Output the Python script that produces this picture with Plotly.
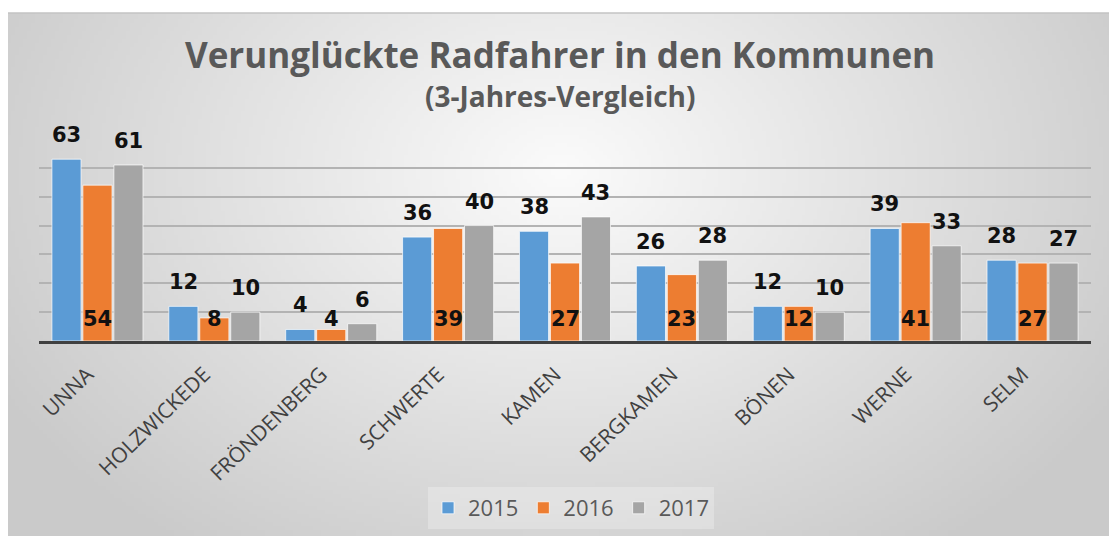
import base64, struct, zlib
import numpy as np
import plotly.graph_objects as go

# ---------------- data ----------------
categories = ["UNNA", "HOLZWICKEDE", "FRÖNDENBERG", "SCHWERTE", "KAMEN",
              "BERGKAMEN", "BÖNEN", "WERNE", "SELM"]
years = ["2015", "2016", "2017"]
v2015 = [63, 12, 4, 36, 38, 26, 12, 39, 28]
v2016 = [54, 8, 4, 39, 27, 23, 12, 41, 27]
v2017 = [61, 10, 6, 40, 43, 28, 10, 33, 27]
y_ticks = [0, 10, 20, 30, 40, 50, 60, 70]

title_text = "Verunglückte Radfahrer in den Kommunen"
subtitle_text = "(3-Jahres-Vergleich)"

# ---------------- style ----------------
OFF = 8                      # page body margin of the html page
W, H = 1117 - OFF, 536 - OFF  # figure size so that it ends at the window edge
ML, MR, MT, MB = 39 - OFF, 26, 139 - OFF, 195
colors = ["#5B9BD5", "#ED7D31", "#A5A5A5"]
BARGAP, GROUPGAP = 0.205, 0.06
LABEL_FONT = "DejaVu Sans"
TEXT_FONT = "Open Sans"

# background gradient image (generated locally as PNG data URI)
gw, gh = 280, 131
xs = np.linspace(0, 1, gw)[None, :]
ys = np.linspace(0, 1, gh)[:, None]
d = np.sqrt(((xs - 0.5) / 0.55) ** 2 + ((ys - 0.3) / 0.85) ** 2)
g = 251 - 46 * np.clip(d, 0, 1.05)
g = np.clip(g, 0, 255).astype(np.uint8)


def png_gray(arr):
    h, w = arr.shape
    raw = b"".join(b"\x00" + arr[r].tobytes() for r in range(h))

    def chunk(t, data):
        c = struct.pack(">I", len(data)) + t + data
        return c + struct.pack(">I", zlib.crc32(t + data) & 0xffffffff)

    ihdr = struct.pack(">IIBBBBB", w, h, 8, 0, 0, 0, 0)
    return (b"\x89PNG\r\n\x1a\n" + chunk(b"IHDR", ihdr) +
            chunk(b"IDAT", zlib.compress(raw, 9)) + chunk(b"IEND", b""))


bg_uri = "data:image/png;base64," + base64.b64encode(png_gray(g)).decode()

pw = W - ML - MR
ph = H - MT - MB


def px_x(px):  # screen pixel -> paper
    return (px - OFF - ML) / pw


def px_y(py):
    return (H - MB - (py - OFF)) / ph


series = [v2015, v2016, v2017]
fig = go.Figure()
for k, (yr, vals) in enumerate(zip(years, series)):
    fig.add_trace(go.Bar(
        name=yr, x=categories, y=vals,
        marker=dict(color=colors[k], line=dict(color="rgba(255,255,255,0.7)", width=1)),
        hoverinfo="x+y+name",
    ))

# data labels
slot = (1 - BARGAP) / 3
annotations = []
for k, vals in enumerate(series):
    off = -(1 - BARGAP) / 2 + slot * (k + 0.5)
    for i, v in enumerate(vals):
        if k == 1:
            yy, ys_ = 0, 22
        else:
            yy, ys_ = v, 24
        annotations.append(dict(
            x=i + off, y=yy, xref="x", yref="y", text=str(v), showarrow=False,
            yshift=ys_, yanchor="middle", xanchor="center",
            font=dict(family=LABEL_FONT, size=21, color="#111111", weight="bold"),
        ))

annotations.append(dict(
    x=px_x(560), y=px_y(96), xref="paper", yref="paper", text="<b>" + subtitle_text + "</b>",
    showarrow=False, xanchor="center", yanchor="middle",
    font=dict(family=TEXT_FONT, size=28, color="#595959"),
))

fig.update_layout(
    template="none",
    width=W, height=H,
    margin=dict(l=ML, r=MR, t=MT, b=MB, pad=0, autoexpand=False),
    paper_bgcolor="white",
    plot_bgcolor="rgba(0,0,0,0)",
    barmode="group", bargap=BARGAP, bargroupgap=GROUPGAP,
    title=dict(text="<b>" + title_text + "</b>", x=(560 - OFF) / W, xanchor="center",
               y=1 - (56 - OFF) / H, yanchor="middle", yref="container", automargin=False,
               font=dict(family=TEXT_FONT, size=35, color="#595959")),
    xaxis=dict(showline=True, linecolor="#404040", linewidth=3, ticks="",
               tickangle=-44, tickfont=dict(family=TEXT_FONT, size=21, color="#404040"),
               showgrid=False, ticklabelstandoff=10, ticklabelshift=-10, automargin=False),
    yaxis=dict(range=[0, 70], tickvals=y_ticks, showticklabels=False, showgrid=True,
               gridcolor="#b3b3b3", gridwidth=1.5, zeroline=False, showline=False,
               automargin=False, ticks=""),
    legend=dict(orientation="h", x=px_x(571), xanchor="center", y=px_y(508), yanchor="middle",
                font=dict(family=TEXT_FONT, size=22, color="#595959"),
                bgcolor="rgba(255,255,255,0.25)", traceorder="normal"),
    showlegend=True,
    annotations=annotations,
    images=[dict(source=bg_uri, xref="paper", yref="paper",
                 x=px_x(5), y=px_y(13), sizex=(1117 - 5) / pw, sizey=(536 - 13) / ph,
                 xanchor="left", yanchor="top", sizing="stretch", layer="below")],
    shapes=[dict(type="rect", xref="paper", yref="paper",
                 x0=px_x(5), y0=px_y(538), x1=px_x(1119), y1=px_y(13),
                 line=dict(color="#c4c4c4", width=1.5), layer="below")],
)

fig.write_html("out.html")
